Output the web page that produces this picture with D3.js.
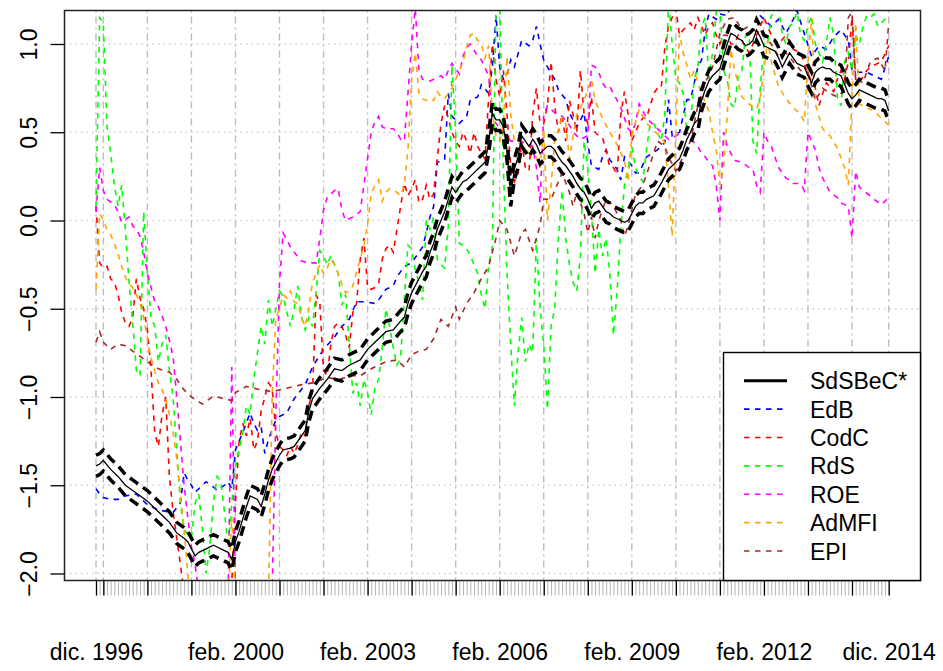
<!DOCTYPE html>
<html>
<head>
<meta charset="utf-8">
<script src="https://cdn.jsdelivr.net/npm/d3@7"></script>
<style>
  body { margin: 0; background: #ffffff; }
  svg text { font-family: "Liberation Sans", Arial, Helvetica, sans-serif; }
</style>
</head>
<body>
<svg id="chart" width="943" height="671"></svg>
<script>
// Monthly index: 0 = dic. 1996 ... 216 = dic. 2014
const seriesNames  = ["SdSBeC*", "EdB", "CodC", "RdS", "ROE", "AdMFI", "EPI"];
const seriesColors = ["#000000", "#0000ff", "#ff0000", "#00ff00", "#ff00ff", "#ffa500", "#a52a2a"];
const yTickValues  = [-2, -1.5, -1, -0.5, 0, 0.5, 1];
const yTickLabels  = ["\u22122.0", "\u22121.5", "\u22121.0", "\u22120.5", "0.0", "0.5", "1.0"];
const xLabelMonths = [0, 38, 74, 110, 146, 182, 216];
const xLabelTexts  = ["dic. 1996", "feb. 2000", "feb. 2003", "feb. 2006", "feb. 2009", "feb. 2012", "dic. 2014"];

// SdSBeC* : [month, lower band, index, upper band]
const sdsbec = [
[0,-1.45,-1.39,-1.33],[1,-1.44,-1.38,-1.32],[2,-1.42,-1.36,-1.30],[4,-1.47,-1.41,-1.35],[6,-1.51,-1.45,-1.39],
[8,-1.56,-1.50,-1.44],[10,-1.59,-1.53,-1.47],[12,-1.62,-1.56,-1.50],[14,-1.65,-1.59,-1.53],[16,-1.69,-1.63,-1.57],
[18,-1.73,-1.67,-1.61],[20,-1.77,-1.71,-1.65],[22,-1.83,-1.77,-1.71],[24,-1.86,-1.80,-1.74],[25,-1.88,-1.82,-1.76],
[27,-1.96,-1.90,-1.84],[28,-1.94,-1.88,-1.82],[30,-1.92,-1.86,-1.80],[32,-1.90,-1.84,-1.78],[33,-1.91,-1.85,-1.79],
[35,-1.93,-1.87,-1.81],[36,-1.94,-1.88,-1.82],[37,-1.98,-1.92,-1.86],[38,-1.88,-1.82,-1.76],[39,-1.82,-1.76,-1.70],
[40,-1.75,-1.69,-1.63],[41,-1.68,-1.62,-1.56],[42,-1.62,-1.56,-1.50],[44,-1.64,-1.58,-1.52],[45,-1.68,-1.62,-1.56],
[46,-1.61,-1.55,-1.49],[47,-1.53,-1.47,-1.41],[48,-1.47,-1.41,-1.35],[50,-1.39,-1.33,-1.27],[51,-1.36,-1.30,-1.24],
[53,-1.35,-1.29,-1.23],[54,-1.34,-1.28,-1.22],[56,-1.28,-1.22,-1.16],[57,-1.25,-1.19,-1.13],[58,-1.14,-1.08,-1.02],
[59,-1.07,-1.01,-0.95],[61,-1.01,-0.95,-0.89],[63,-0.96,-0.90,-0.84],[65,-0.90,-0.84,-0.78],[67,-0.91,-0.85,-0.79],
[69,-0.88,-0.82,-0.76],[70,-0.87,-0.81,-0.75],[72,-0.85,-0.79,-0.73],[74,-0.79,-0.73,-0.67],[76,-0.75,-0.69,-0.63],
[78,-0.71,-0.65,-0.59],[79,-0.69,-0.63,-0.57],[81,-0.68,-0.62,-0.56],[83,-0.63,-0.57,-0.51],[84,-0.61,-0.55,-0.49],
[85,-0.53,-0.47,-0.41],[86,-0.47,-0.41,-0.35],[88,-0.39,-0.33,-0.27],[89,-0.35,-0.29,-0.23],[90,-0.32,-0.26,-0.20],
[91,-0.24,-0.18,-0.12],[92,-0.19,-0.13,-0.07],[93,-0.11,-0.05,0.01],[94,-0.06,0.00,0.06],[95,-0.01,0.05,0.11],
[96,0.06,0.12,0.18],[97,0.13,0.19,0.25],[98,0.10,0.16,0.22],[99,0.13,0.19,0.25],[100,0.16,0.22,0.28],
[101,0.17,0.23,0.29],[102,0.19,0.25,0.31],[103,0.21,0.27,0.33],[104,0.23,0.29,0.35],[105,0.25,0.31,0.37],
[106,0.27,0.33,0.39],[107,0.38,0.44,0.50],[108,0.55,0.61,0.67],[109,0.51,0.57,0.63],[110,0.51,0.57,0.63],
[111,0.47,0.53,0.59],[112,0.34,0.40,0.46],[113,0.08,0.14,0.20],[114,0.23,0.29,0.35],[115,0.30,0.36,0.42],
[116,0.42,0.48,0.54],[117,0.39,0.45,0.51],[118,0.36,0.42,0.48],[119,0.40,0.46,0.52],[120,0.37,0.43,0.49],
[121,0.32,0.38,0.44],[122,0.34,0.40,0.46],[123,0.36,0.42,0.48],[124,0.36,0.42,0.48],[125,0.34,0.40,0.46],
[126,0.30,0.36,0.42],[127,0.27,0.33,0.39],[128,0.25,0.31,0.37],[129,0.22,0.28,0.34],[130,0.19,0.25,0.31],
[131,0.15,0.21,0.27],[132,0.12,0.18,0.24],[133,0.10,0.16,0.22],[134,0.06,0.12,0.18],[135,0.01,0.07,0.13],
[136,0.04,0.10,0.16],[137,0.05,0.11,0.17],[138,0.02,0.08,0.14],[139,-0.01,0.05,0.11],[140,-0.02,0.04,0.10],
[141,-0.04,0.02,0.08],[142,-0.05,0.01,0.07],[143,-0.06,0.00,0.06],[144,-0.07,-0.01,0.05],[145,-0.06,0.00,0.06],
[146,-0.02,0.04,0.10],[147,0.02,0.08,0.14],[148,0.04,0.10,0.16],[149,0.04,0.10,0.16],[150,0.06,0.12,0.18],
[152,0.08,0.14,0.20],[154,0.15,0.21,0.27],[155,0.19,0.25,0.31],[156,0.23,0.29,0.35],[157,0.25,0.31,0.37],
[158,0.27,0.33,0.39],[159,0.29,0.35,0.41],[160,0.34,0.40,0.46],[161,0.40,0.46,0.52],[162,0.44,0.50,0.56],
[163,0.49,0.55,0.61],[164,0.51,0.57,0.63],[165,0.62,0.68,0.74],[166,0.68,0.74,0.80],[167,0.73,0.79,0.85],
[168,0.76,0.82,0.88],[169,0.78,0.84,0.90],[170,0.80,0.86,0.92],[171,0.87,0.93,0.99],[172,0.94,1.00,1.06],
[173,1.00,1.06,1.12],[174,0.99,1.05,1.11],[175,0.97,1.03,1.09],[176,0.96,1.02,1.08],[177,0.93,0.99,1.05],
[178,0.94,1.00,1.06],[179,0.96,1.02,1.08],[180,1.02,1.08,1.14],[181,0.98,1.04,1.10],[182,0.93,0.99,1.05],
[183,0.92,0.98,1.04],[184,0.91,0.97,1.03],[185,0.90,0.96,1.02],[186,0.86,0.92,0.98],[187,0.81,0.87,0.93],
[188,0.85,0.91,0.97],[189,0.89,0.95,1.01],[190,0.86,0.92,0.98],[191,0.83,0.89,0.95],[192,0.82,0.88,0.94],
[193,0.81,0.87,0.93],[194,0.76,0.82,0.88],[195,0.72,0.78,0.84],[196,0.78,0.84,0.90],[197,0.80,0.86,0.92],
[198,0.81,0.87,0.93],[199,0.80,0.86,0.92],[200,0.80,0.86,0.92],[201,0.78,0.84,0.90],[202,0.77,0.83,0.89],
[203,0.76,0.82,0.88],[204,0.71,0.77,0.83],[205,0.66,0.72,0.78],[206,0.63,0.69,0.75],[207,0.65,0.71,0.77],
[208,0.68,0.74,0.80],[209,0.67,0.73,0.79],[210,0.66,0.72,0.78],[211,0.65,0.71,0.77],[212,0.64,0.70,0.76],
[213,0.63,0.69,0.75],[214,0.63,0.69,0.75],[215,0.62,0.68,0.74],[216,0.56,0.62,0.68]
];

const edb = [
[0,-1.52],[1,-1.55],[2,-1.57],[4,-1.58],[6,-1.58],[8,-1.56],[11,-1.55],[14,-1.61],[17,-1.64],[21,-1.655],
[23,-1.60],[24,-1.43],[25,-1.47],[26,-1.50],[27,-1.54],[29,-1.50],[30,-1.48],[32,-1.51],[33,-1.53],[35,-1.50],
[36,-1.48],[37,-1.52],[38,-1.30],[39,-1.25],[40,-1.20],[42,-1.09],[43,-1.15],[44,-1.19],[45,-1.17],[46,-1.32],
[47,-1.24],[49,-1.13],[50,-1.11],[52,-1.09],[54,-1.01],[57,-0.93],[59,-0.83],[62,-0.73],[65,-0.66],[67,-0.60],
[69,-0.56],[71,-0.46],[73,-0.46],[76,-0.47],[77,-0.45],[79,-0.39],[81,-0.37],[82,-0.32],[84,-0.26],[86,-0.24],
[88,-0.18],[89,-0.15],[90,-0.07],[91,0.02],[92,0.08],[93,0.33],[95,0.345],[96,0.72],[97,0.59],[99,0.55],
[101,0.59],[102,0.685],[104,0.70],[105,0.77],[107,0.72],[108,0.87],[109,1.16],[110,0.87],[111,0.80],[112,0.82],
[113,0.91],[114,0.87],[116,1.02],[118,0.99],[119,1.02],[120,1.10],[121,1.00],[122,0.91],[123,0.87],[125,0.80],
[126,0.74],[128,0.685],[129,0.61],[131,0.53],[132,0.57],[133,0.61],[134,0.44],[135,0.31],[137,0.29],[138,0.36],
[139,0.40],[140,0.345],[142,0.29],[143,0.23],[144,0.36],[146,0.31],[147,0.27],[148,0.27],[150,0.36],[153,0.40],
[155,0.44],[156,0.685],[157,0.48],[159,0.50],[161,0.685],[162,0.685],[164,0.87],[165,0.91],[166,1.08],[167,1.17],
[169,1.14],[170,1.17],[172,1.16],[173,1.22],[175,1.19],[177,1.22],[179,1.21],[181,1.16],[184,1.10],[186,1.14],
[188,1.06],[190,1.14],[191,1.19],[193,1.06],[195,0.93],[197,0.99],[199,0.97],[201,1.04],[203,1.08],[205,1.02],
[206,0.855],[208,0.84],[210,0.84],[212,0.82],[214,0.80],[216,0.93]
];

const codc = [
[0,0.08],[1,-0.24],[2,-0.27],[3,-0.26],[4,-0.33],[5,-0.35],[6,-0.42],[7,-0.52],[8,-0.58],[9,-0.60],
[10,-0.55],[11,-0.33],[12,-0.44],[13,-0.50],[14,-0.62],[15,-0.85],[16,-1.20],[17,-1.28],[18,-1.10],[19,-1.00],
[20,-1.45],[21,-1.65],[22,-1.80],[23,-1.95],[24,-2.10],[26,-2.20],[30,-2.25],[34,-2.20],[36,-2.10],[37,-2.05],
[38,-1.60],[39,-1.25],[40,-1.15],[41,-1.22],[42,-1.12],[43,-1.30],[44,-1.25],[45,-1.08],[46,-1.00],[47,-0.92],
[48,-0.95],[49,-1.20],[50,-1.28],[51,-1.30],[52,-1.33],[53,-1.28],[54,-1.32],[55,-1.27],[56,-1.20],[57,-1.22],
[58,-1.05],[59,-0.97],[60,-0.42],[61,-0.47],[62,-0.85],[63,-0.88],[64,-0.70],[65,-0.60],[66,-0.58],[67,-0.60],
[68,-0.65],[69,-0.72],[70,-0.52],[71,-0.47],[72,-0.22],[73,-0.10],[74,-0.38],[75,-0.39],[76,-0.38],[77,-0.36],
[78,-0.22],[79,-0.16],[80,-0.14],[81,-0.18],[82,-0.05],[83,0.08],[84,0.21],[85,0.14],[86,0.18],[87,0.23],
[88,0.10],[89,0.12],[90,0.20],[91,0.12],[92,0.15],[93,0.35],[94,0.55],[95,0.65],[96,0.58],[97,0.50],
[98,0.45],[99,0.42],[100,0.50],[101,0.45],[102,0.38],[103,0.50],[104,0.42],[105,0.38],[106,0.35],[107,0.70],
[108,1.00],[109,0.80],[110,0.70],[111,0.85],[112,0.60],[113,0.30],[114,0.22],[115,0.26],[116,0.45],[117,0.30],
[118,0.28],[119,0.60],[120,0.75],[121,0.55],[122,0.55],[123,0.65],[124,0.90],[125,0.65],[126,0.50],[127,0.60],
[128,0.45],[129,0.68],[130,0.60],[131,0.50],[132,0.85],[133,0.60],[134,0.55],[135,0.70],[136,0.50],[137,0.48],
[138,0.47],[139,0.40],[140,0.30],[141,0.30],[142,0.26],[143,0.60],[144,0.73],[145,0.60],[146,0.45],[147,0.50],
[148,0.55],[149,0.58],[150,0.58],[151,0.65],[152,0.72],[153,0.75],[154,0.75],[155,0.98],[156,1.10],[157,1.15],
[158,1.20],[159,1.05],[160,1.08],[161,1.10],[162,1.12],[163,1.08],[164,1.15],[165,1.10],[166,1.05],[167,1.10],
[168,1.12],[169,1.05],[170,1.00],[171,1.05],[172,1.05],[173,1.00],[174,1.00],[175,1.05],[176,1.02],[177,0.98],
[178,0.95],[180,1.05],[182,1.15],[184,1.05],[186,1.00],[188,1.05],[190,0.97],[192,0.95],[194,0.83],[196,0.75],
[197,0.65],[198,0.72],[199,0.78],[201,0.73],[202,0.80],[203,0.85],[204,0.80],[205,0.90],[206,1.15],[207,0.80],
[208,0.78],[210,0.85],[212,0.88],[214,0.90],[216,0.99]
];

const rds = [
[0,0.08],[1,1.15],[2,1.12],[3,0.53],[4,0.38],[5,0.20],[6,0.08],[7,0.20],[8,-0.05],[9,-0.35],
[10,-0.58],[11,-0.85],[12,-0.88],[13,0.05],[14,-0.30],[15,-0.55],[16,-0.60],[17,-0.80],[18,-0.70],[19,-0.65],
[20,-0.85],[21,-1.00],[22,-1.30],[23,-1.60],[24,-1.75],[25,-1.78],[26,-1.80],[27,-1.60],[28,-1.55],[29,-1.75],
[30,-2.00],[31,-1.85],[32,-1.60],[33,-1.45],[34,-1.48],[35,-1.65],[36,-1.85],[37,-1.60],[38,-1.40],[39,-1.30],
[40,-1.20],[41,-1.05],[42,-1.10],[43,-0.90],[44,-0.75],[45,-0.60],[46,-0.70],[47,-0.45],[48,-0.60],[49,-0.50],
[50,-0.40],[51,-0.43],[52,-0.52],[53,-0.60],[54,-0.50],[55,-0.37],[56,-0.55],[57,-0.62],[58,-0.55],[59,-0.60],
[60,-0.40],[61,-0.17],[62,-0.20],[63,-0.25],[64,-0.20],[65,-0.25],[66,-0.30],[67,-0.48],[68,-0.42],[69,-0.70],
[70,-0.98],[71,-0.92],[72,-1.05],[73,-0.90],[74,-0.98],[75,-1.10],[76,-0.95],[77,-0.90],[78,-0.72],[79,-0.50],
[80,-0.60],[81,-0.72],[82,-0.82],[83,-0.78],[84,-0.45],[85,-0.14],[86,-0.16],[87,-0.28],[88,-0.35],[89,-0.45],
[90,0.00],[91,-0.05],[92,0.02],[93,-0.22],[94,-0.25],[95,-0.27],[96,-0.03],[97,0.88],[98,0.50],[99,-0.13],
[100,-0.14],[101,-0.16],[102,-0.20],[103,-0.25],[104,-0.30],[105,-0.42],[106,-0.50],[107,-0.25],[108,-0.15],[109,1.25],
[110,1.25],[111,0.30],[112,-0.30],[113,-0.70],[114,-1.05],[115,-0.75],[116,-0.55],[117,-0.80],[118,-0.70],[119,-0.75],
[120,-0.10],[121,-0.50],[122,-0.70],[123,-1.07],[124,-0.60],[125,-0.50],[126,-0.10],[127,0.17],[128,-0.10],[129,-0.25],
[130,-0.35],[131,-0.40],[132,-0.20],[133,0.45],[134,0.30],[135,0.05],[136,-0.30],[137,-0.05],[138,-0.20],[139,-0.10],
[140,-0.30],[141,-0.65],[142,-0.40],[143,-0.05],[144,0.20],[145,0.30],[146,0.42],[147,0.30],[148,0.25],[149,0.22],
[150,0.40],[151,0.55],[152,0.55],[153,0.50],[154,0.45],[155,0.60],[156,1.25],[157,1.00],[158,0.80],[159,0.78],
[160,0.72],[161,0.50],[162,0.55],[163,0.80],[164,0.87],[165,1.10],[166,1.15],[167,0.80],[168,0.95],[169,1.18],
[170,1.22],[171,0.85],[172,0.80],[173,0.66],[174,0.64],[175,0.82],[176,0.85],[177,1.05],[178,1.05],[179,0.45],
[180,0.38],[181,0.75],[182,1.00],[183,1.00],[184,1.16],[185,1.18],[186,1.20],[187,1.05],[188,1.00],[189,1.10],
[190,1.12],[191,1.18],[192,1.05],[193,1.02],[194,1.10],[195,1.16],[196,1.00],[197,0.95],[198,0.90],[199,1.00],
[200,1.15],[201,1.05],[202,0.70],[203,0.65],[204,0.90],[205,0.95],[206,0.85],[207,1.05],[208,1.00],[209,1.10],
[210,1.16],[211,1.15],[212,1.17],[213,1.10],[214,1.12],[215,1.14],[216,1.15]
];

const roe = [
[0,0.05],[1,0.30],[2,0.17],[3,0.12],[5,0.09],[6,0.05],[7,-0.01],[9,0.02],[10,-0.03],[11,-0.05],
[12,-0.09],[13,-0.18],[14,-0.30],[15,-0.38],[16,-0.46],[17,-0.49],[18,-0.54],[19,-0.60],[20,-0.68],[21,-0.77],
[22,-1.00],[23,-1.25],[24,-1.50],[25,-1.68],[26,-1.85],[27,-1.95],[28,-2.10],[30,-2.20],[33,-2.20],[35,-2.15],
[36,-2.10],[37,-0.83],[38,-2.10],[40,-2.20],[44,-2.20],[47,-2.20],[48,-2.10],[49,-1.10],[50,-0.35],[51,-0.07],
[52,-0.11],[53,-0.15],[54,-0.18],[56,-0.23],[58,-0.24],[60,-0.24],[61,-0.10],[62,0.06],[63,0.13],[65,0.17],
[66,0.18],[67,0.06],[68,0.00],[70,0.02],[72,0.05],[73,0.20],[74,0.35],[75,0.50],[76,0.56],[77,0.59],
[78,0.53],[79,0.52],[81,0.52],[82,0.50],[83,0.46],[84,0.45],[85,0.72],[86,1.00],[87,1.20],[88,0.85],
[89,0.80],[91,0.79],[92,0.80],[94,0.82],[95,0.80],[96,0.85],[97,0.89],[99,0.83],[100,0.93],[101,0.98],
[102,1.00],[104,0.93],[105,0.91],[107,0.82],[108,0.58],[109,0.55],[111,0.50],[113,0.45],[115,0.45],[117,0.44],
[119,0.42],[120,0.30],[121,0.10],[122,0.60],[123,0.65],[124,0.63],[125,0.61],[127,0.59],[129,0.54],[130,0.50],
[132,0.46],[134,0.48],[135,0.88],[136,0.87],[137,0.84],[138,0.78],[139,0.75],[140,0.76],[141,0.72],[142,0.68],
[143,0.64],[144,0.58],[145,0.52],[146,0.50],[147,0.55],[148,0.66],[149,0.62],[150,0.58],[151,0.56],[152,0.54],
[154,0.50],[156,0.46],[158,0.48],[160,0.50],[161,0.50],[162,0.48],[163,0.44],[164,0.42],[165,0.38],[166,0.36],
[167,0.33],[168,0.31],[169,0.20],[170,0.00],[171,0.50],[172,0.42],[173,0.38],[174,0.34],[176,0.33],[178,0.30],
[179,0.29],[180,0.20],[181,0.16],[182,0.50],[183,0.45],[184,0.42],[185,0.36],[186,0.30],[187,0.27],[188,0.24],
[189,0.23],[190,0.21],[192,0.21],[193,0.17],[194,0.50],[195,0.45],[196,0.40],[197,0.30],[198,0.24],[199,0.20],
[200,0.16],[202,0.13],[203,0.10],[204,0.09],[205,0.08],[206,-0.10],[207,0.28],[208,0.19],[209,0.17],[211,0.14],
[212,0.12],[214,0.09],[216,0.13]
];

const admfi = [
[0,-0.39],[1,0.04],[2,0.00],[3,-0.05],[4,-0.08],[5,-0.13],[6,-0.19],[7,-0.26],[8,-0.32],[9,-0.36],
[10,-0.38],[11,-0.42],[12,-0.47],[13,-0.55],[14,-0.67],[15,-0.78],[16,-0.85],[17,-0.92],[18,-0.96],[19,-1.01],
[20,-1.10],[21,-1.20],[22,-1.35],[23,-1.55],[24,-1.75],[25,-2.00],[26,-2.20],[30,-2.25],[35,-2.20],[36,-2.15],
[37,-1.68],[38,-2.15],[42,-2.25],[46,-2.20],[47,-2.15],[48,-1.00],[49,-0.55],[50,-0.50],[51,-0.42],[52,-0.44],
[53,-0.40],[54,-0.46],[55,-0.47],[56,-0.55],[57,-0.60],[58,-0.50],[59,-0.35],[60,-0.30],[61,-0.25],[62,-0.30],
[63,-0.27],[64,-0.22],[65,-0.25],[66,-0.30],[67,-0.36],[68,-0.41],[69,-0.40],[70,-0.37],[71,-0.29],[72,-0.22],
[73,-0.14],[74,-0.02],[75,0.15],[76,0.20],[77,0.23],[78,0.11],[79,0.16],[80,0.18],[81,0.17],[82,0.16],
[83,0.14],[84,0.20],[85,0.40],[86,0.80],[87,0.95],[88,0.72],[89,0.69],[90,0.68],[91,0.69],[92,0.68],
[93,0.73],[94,0.70],[95,0.69],[96,0.72],[97,0.75],[98,0.80],[99,0.85],[100,0.90],[101,0.98],[102,1.05],
[103,1.06],[104,1.02],[105,1.00],[106,0.92],[107,0.99],[108,0.60],[109,0.48],[110,0.45],[111,0.55],[112,0.93],
[113,0.60],[114,0.45],[116,0.43],[118,0.38],[120,0.36],[121,0.30],[122,0.52],[123,0.00],[124,0.20],[125,0.45],
[127,0.58],[128,0.55],[129,0.35],[131,0.60],[133,0.68],[135,0.80],[136,0.68],[138,0.58],[140,0.50],[142,0.43],
[144,0.34],[145,0.22],[146,0.48],[148,0.63],[150,0.55],[152,0.51],[154,0.47],[155,0.44],[156,0.20],[157,-0.09],
[158,0.50],[159,1.06],[160,0.95],[161,0.88],[162,0.80],[163,0.85],[164,0.78],[165,0.72],[167,0.62],[168,0.50],
[169,0.40],[170,0.20],[171,0.30],[172,0.60],[173,0.97],[174,0.85],[175,0.78],[176,0.70],[178,0.66],[180,0.63],
[181,0.70],[182,0.85],[183,1.02],[184,0.90],[186,0.76],[188,0.69],[190,0.64],[192,0.60],[193,0.56],[194,0.90],
[195,1.15],[196,0.66],[198,0.52],[200,0.48],[202,0.41],[204,0.30],[205,0.20],[206,0.70],[207,1.12],[208,0.66],
[210,0.64],[212,0.62],[214,0.58],[216,0.54]
];

const epi = [
[0,-0.69],[1,-0.63],[2,-0.69],[4,-0.73],[6,-0.70],[8,-0.71],[10,-0.74],[12,-0.77],[14,-0.80],[17,-0.84],
[20,-0.86],[22,-0.90],[24,-0.96],[26,-1.00],[29,-1.04],[32,-0.995],[35,-1.01],[37,-1.02],[38,-0.975],[41,-0.94],
[45,-0.96],[48,-0.97],[52,-0.95],[56,-0.93],[59,-0.92],[63,-0.89],[66,-0.90],[70,-0.88],[72,-0.88],[75,-0.84],
[79,-0.80],[82,-0.79],[84,-0.83],[86,-0.76],[88,-0.74],[90,-0.73],[92,-0.67],[94,-0.56],[96,-0.60],[98,-0.49],
[99,-0.56],[101,-0.47],[103,-0.41],[105,-0.33],[107,-0.26],[109,-0.10],[110,0.00],[112,-0.05],[114,-0.20],[116,-0.07],
[117,-0.05],[119,-0.17],[121,-0.03],[122,0.12],[124,0.12],[125,0.17],[127,0.27],[129,0.16],[130,0.08],[131,0.16],
[132,0.10],[133,0.04],[134,-0.07],[135,0.02],[136,-0.10],[137,0.00],[139,0.12],[141,0.08],[143,0.00],[144,-0.09],
[145,-0.03],[147,0.15],[149,0.20],[151,0.32],[153,0.45],[155,0.42],[156,0.36],[158,0.28],[159,0.32],[160,0.36],
[162,0.45],[164,0.65],[166,0.78],[168,0.87],[170,1.06],[172,1.14],[174,1.15],[176,1.08],[178,1.10],[180,1.07],
[182,1.05],[184,1.00],[186,0.93],[188,0.95],[190,0.90],[192,0.85],[194,0.84],[196,0.68],[198,0.75],[200,0.72],
[202,0.70],[204,0.74],[205,1.15],[206,1.18],[207,0.80],[209,0.78],[211,0.90],[213,0.92],[215,0.85],[216,1.12]
];

// ---------------------------------------------------------------------------
const W = 943, H = 671;
const box = { left: 64.5, right: 920.5, top: 10.5, bottom: 580.5 };
const FONT = 23;

const x = d3.scaleLinear().domain([0, 216]).range([96, 888.7]);
const y = d3.scaleLinear().domain([-2, 1]).range([573.5, 44]);

const svg = d3.select("#chart");
svg.append("rect").attr("width", W).attr("height", H).attr("fill", "#ffffff");

svg.append("defs").append("clipPath").attr("id", "plotArea")
  .append("rect")
  .attr("x", box.left).attr("y", box.top)
  .attr("width", box.right - box.left).attr("height", box.bottom - box.top);

// month positions: first month, each February, last month
const majorMonths = [0].concat(d3.range(2, 216, 12)).concat([216]);

// grid
const grid = svg.append("g");
grid.selectAll("line.h").data(yTickValues).join("line")
  .attr("class", "h")
  .attr("x1", box.left).attr("x2", box.right)
  .attr("y1", d => y(d)).attr("y2", d => y(d))
  .attr("stroke", "#cfcfcf").attr("stroke-width", 1.3)
  .attr("stroke-dasharray", "1.5,4");
grid.selectAll("line.v").data(majorMonths).join("line")
  .attr("class", "v")
  .attr("x1", d => x(d)).attr("x2", d => x(d))
  .attr("y1", box.top).attr("y2", box.bottom)
  .attr("stroke", "#bdbdbd").attr("stroke-width", 1.4)
  .attr("stroke-dasharray", "2,4,7,4");

// series
const lineGen = d3.line().x(d => x(d[0])).y(d => y(d[1]));
const plotG = svg.append("g").attr("clip-path", "url(#plotArea)");
const dashedSeries = [edb, codc, rds, roe, admfi, epi];
dashedSeries.forEach((data, i) => {
  plotG.append("path")
    .datum(data)
    .attr("d", lineGen)
    .attr("fill", "none")
    .attr("stroke", seriesColors[i + 1])
    .attr("stroke-width", 1.6)
    .attr("stroke-dasharray", "5.5,5.5");
});

// SdSBeC* with its band
const bandLow  = d3.line().x(d => x(d[0])).y(d => y(d[1]));
const bandMid  = d3.line().x(d => x(d[0])).y(d => y(d[2]));
const bandHigh = d3.line().x(d => x(d[0])).y(d => y(d[3]));
[bandLow, bandHigh].forEach(g => {
  plotG.append("path").datum(sdsbec).attr("d", g)
    .attr("fill", "none").attr("stroke", "#000").attr("stroke-width", 3.5)
    .attr("stroke-dasharray", "10,6");
});
plotG.append("path").datum(sdsbec).attr("d", bandMid)
  .attr("fill", "none").attr("stroke", "#000").attr("stroke-width", 1.3);

// axes
const xMinor = svg.append("g").attr("transform", `translate(0,${box.bottom})`)
  .call(d3.axisBottom(x).tickValues(d3.range(0, 217)).tickSize(15).tickFormat(""));
xMinor.select(".domain").remove();
xMinor.selectAll(".tick line").attr("stroke", "#b5b5b5").attr("stroke-width", 1);

const xMajor = svg.append("g").attr("transform", `translate(0,${box.bottom})`)
  .call(d3.axisBottom(x).tickValues(majorMonths).tickSize(15).tickFormat(""));
xMajor.select(".domain").remove();
xMajor.selectAll(".tick line").attr("stroke", "#000").attr("stroke-width", 1.3);

const xLab = svg.append("g").attr("transform", `translate(0,${box.bottom})`)
  .call(d3.axisBottom(x).tickValues(xLabelMonths).tickSize(0).tickPadding(63)
    .tickFormat((d, i) => xLabelTexts[i]));
xLab.select(".domain").remove();
xLab.selectAll(".tick text").attr("font-size", FONT).attr("fill", "#000")
  .style("font-family", "'Liberation Sans', Arial, sans-serif");

const yAx = svg.append("g").attr("transform", `translate(${box.left},0)`)
  .call(d3.axisLeft(y).tickValues(yTickValues).tickSize(14)
    .tickFormat((d, i) => yTickLabels[i]));
yAx.select(".domain").remove();
yAx.selectAll(".tick line").attr("stroke", "#000").attr("stroke-width", 1.3);
yAx.selectAll(".tick text")
  .attr("x", 0).attr("y", 0).attr("dy", 0)
  .attr("text-anchor", "middle")
  .attr("transform", `translate(${37 - box.left},0) rotate(-90)`)
  .attr("font-size", FONT).attr("fill", "#000")
  .style("font-family", "'Liberation Sans', Arial, sans-serif");

// plot frame
svg.append("rect")
  .attr("x", box.left).attr("y", box.top)
  .attr("width", box.right - box.left).attr("height", box.bottom - box.top)
  .attr("fill", "none").attr("stroke", "#222").attr("stroke-width", 1.5);

// legend
const leg = { left: 723.5, top: 352.5, right: box.right, bottom: box.bottom };
const legG = svg.append("g");
legG.append("rect")
  .attr("x", leg.left).attr("y", leg.top)
  .attr("width", leg.right - leg.left).attr("height", leg.bottom - leg.top)
  .attr("fill", "#fff").attr("stroke", "#000").attr("stroke-width", 1.4);
const legRows = d3.scaleLinear().domain([0, 6]).range([380.7, 551]);
seriesNames.forEach((name, i) => {
  const yy = legRows(i);
  legG.append("line")
    .attr("x1", 744).attr("x2", 787).attr("y1", yy).attr("y2", yy)
    .attr("stroke", seriesColors[i])
    .attr("stroke-width", i === 0 ? 3 : 1.6)
    .attr("stroke-dasharray", i === 0 ? null : "5.5,5.5");
  legG.append("text")
    .attr("x", 810).attr("y", yy + 8.5)
    .attr("font-size", FONT).attr("fill", "#000")
    .text(name);
});
</script>
</body>
</html>
